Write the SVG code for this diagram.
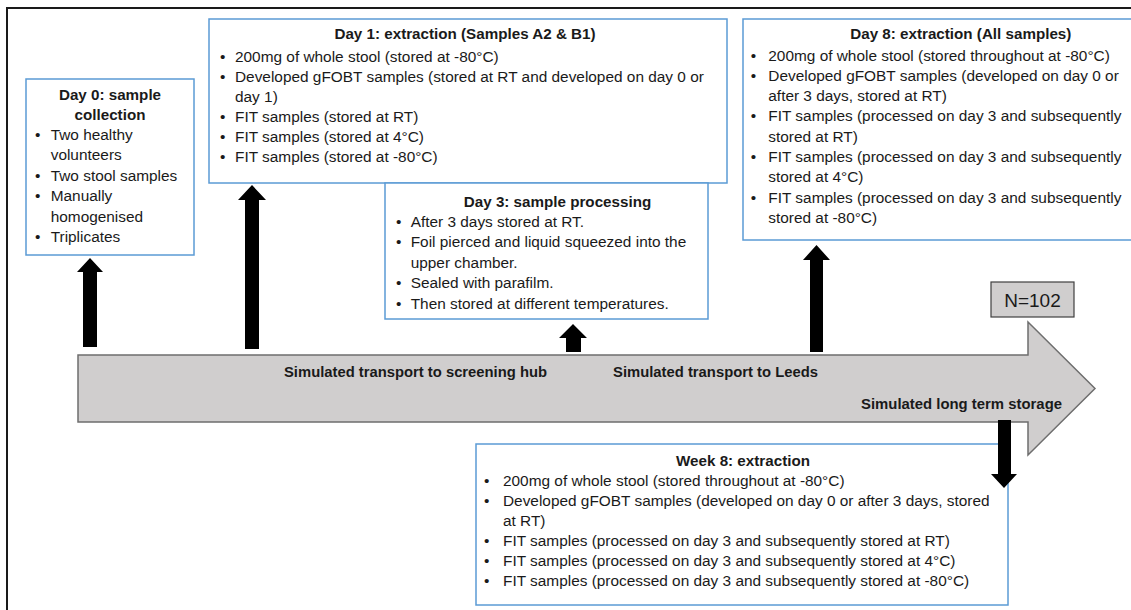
<svg xmlns="http://www.w3.org/2000/svg" width="1131" height="610" viewBox="0 0 1131 610">
<style>
text{font-family:"Liberation Sans",Arial,sans-serif;fill:#1a1a1a}
.b{font-size:15.4px}
.t{font-size:15.2px;font-weight:bold;text-anchor:middle}
.lab{font-size:14.8px;font-weight:bold}
.box{fill:#fff;stroke:#5b9bd5;stroke-width:1.5}
.arr{fill:#000}
</style>
<rect width="1131" height="610" fill="#fff"/>
<path d="M7,610 V8 H1131" fill="none" stroke="#1a1a1a" stroke-width="2"/>

<g id="timeline">
<polygon points="78,355 1028,355 1028,322 1095,388.5 1028,455 1028,422 78,422" fill="#d0cece" stroke="#6e6e6e" stroke-width="1.5"/>
<text class="lab" x="284" y="377" textLength="263" lengthAdjust="spacingAndGlyphs">Simulated transport to screening hub</text>
<text class="lab" x="613" y="377" textLength="205" lengthAdjust="spacingAndGlyphs">Simulated transport to Leeds</text>
<text class="lab" x="861" y="409" textLength="201" lengthAdjust="spacingAndGlyphs">Simulated long term storage</text>
</g>

<g id="n102">
<rect x="991" y="282" width="83" height="35" fill="#d0cece" stroke="#404040" stroke-width="1.2"/>
<text x="1032.5" y="307" font-size="19" text-anchor="middle">N=102</text>
</g>

<g id="day0">
<rect class="box" x="26" y="79" width="168" height="176"/>
<text class="t" x="110" y="99.5">Day 0: sample</text>
<text class="t" x="110" y="119.5">collection</text>
<text class="b" x="35" y="139.5">•</text><text class="b" x="50.7" y="139.5">Two healthy</text>
<text class="b" x="50.7" y="160">volunteers</text>
<text class="b" x="35" y="180.5">•</text><text class="b" x="50.7" y="180.5">Two stool samples</text>
<text class="b" x="35" y="201">•</text><text class="b" x="50.7" y="201">Manually</text>
<text class="b" x="50.7" y="221.5">homogenised</text>
<text class="b" x="35" y="242">•</text><text class="b" x="50.7" y="242">Triplicates</text>
</g>

<g id="day1">
<rect class="box" x="209" y="19" width="518" height="164"/>
<text class="t" x="465" y="39">Day 1: extraction (Samples A2 &amp; B1)</text>
<text class="b" x="220" y="61.5">•</text><text class="b" x="235" y="61.5">200mg of whole stool (stored at -80°C)</text>
<text class="b" x="220" y="81.5">•</text><text class="b" x="235" y="81.5">Developed gFOBT samples (stored at RT and developed on day 0 or</text>
<text class="b" x="235" y="102">day 1)</text>
<text class="b" x="220" y="122">•</text><text class="b" x="235" y="122">FIT samples (stored at RT)</text>
<text class="b" x="220" y="142">•</text><text class="b" x="235" y="142">FIT samples (stored at 4°C)</text>
<text class="b" x="220" y="162">•</text><text class="b" x="235" y="162">FIT samples (stored at -80°C)</text>
</g>

<g id="day3">
<rect class="box" x="385" y="183" width="323" height="136"/>
<text class="t" x="557.5" y="206.5">Day 3: sample processing</text>
<text class="b" x="396" y="227">•</text><text class="b" x="410.7" y="227">After 3 days stored at RT.</text>
<text class="b" x="396" y="247">•</text><text class="b" x="410.7" y="247">Foil pierced and liquid squeezed into the</text>
<text class="b" x="410.7" y="267.5">upper chamber.</text>
<text class="b" x="396" y="288">•</text><text class="b" x="410.7" y="288">Sealed with parafilm.</text>
<text class="b" x="396" y="308.5">•</text><text class="b" x="410.7" y="308.5">Then stored at different temperatures.</text>
</g>

<g id="day8">
<rect class="box" x="743" y="19" width="437" height="221"/>
<text class="t" x="960.8" y="39.3">Day 8: extraction (All samples)</text>
<text class="b" x="750.7" y="60.5">•</text><text class="b" x="768.3" y="60.5">200mg of whole stool (stored throughout at -80°C)</text>
<text class="b" x="750.7" y="80.8">•</text><text class="b" x="768.3" y="80.8">Developed gFOBT samples (developed on day 0 or</text>
<text class="b" x="768.3" y="101.1">after 3 days, stored at RT)</text>
<text class="b" x="750.7" y="121.4">•</text><text class="b" x="768.3" y="121.4">FIT samples (processed on day 3 and subsequently</text>
<text class="b" x="768.3" y="141.7">stored at RT)</text>
<text class="b" x="750.7" y="162">•</text><text class="b" x="768.3" y="162">FIT samples (processed on day 3 and subsequently</text>
<text class="b" x="768.3" y="182.3">stored at 4°C)</text>
<text class="b" x="750.7" y="202.6">•</text><text class="b" x="768.3" y="202.6">FIT samples (processed on day 3 and subsequently</text>
<text class="b" x="768.3" y="222.9">stored at -80°C)</text>
</g>

<g id="week8">
<rect class="box" x="476" y="444" width="532" height="161"/>
<text class="t" x="743" y="466">Week 8: extraction</text>
<text class="b" x="484" y="486">•</text><text class="b" x="503" y="486">200mg of whole stool (stored throughout at -80°C)</text>
<text class="b" x="484" y="506">•</text><text class="b" x="503" y="506">Developed gFOBT samples (developed on day 0 or after 3 days, stored</text>
<text class="b" x="503" y="526">at RT)</text>
<text class="b" x="484" y="546">•</text><text class="b" x="503" y="546">FIT samples (processed on day 3 and subsequently stored at RT)</text>
<text class="b" x="484" y="566">•</text><text class="b" x="503" y="566">FIT samples (processed on day 3 and subsequently stored at 4°C)</text>
<text class="b" x="484" y="586">•</text><text class="b" x="503" y="586">FIT samples (processed on day 3 and subsequently stored at -80°C)</text>
</g>

<g id="connectors">
<polygon class="arr" points="83,347 83,272 77,272 90,258 103,272 97,272 97,347"/>
<polygon class="arr" points="245,349 245,200 238,200 252,185 266,200 259,200 259,349"/>
<polygon class="arr" points="566,352 566,338 559,338 573,324 587,338 581,338 581,352"/>
<polygon class="arr" points="810,352 810,260 803,260 816.5,245 830,260 823,260 823,352"/>
<polygon class="arr" points="998,420 1011,420 1011,474 1017,474 1004,488 991,474 998,474"/>
</g>
</svg>
